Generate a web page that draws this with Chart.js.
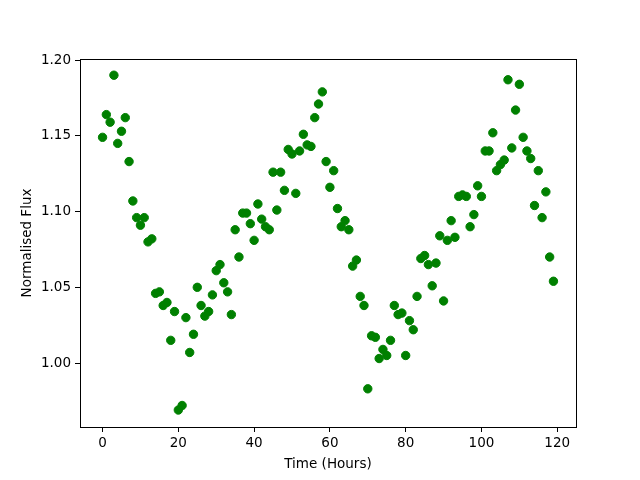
<!DOCTYPE html>
<html>
<head>
<meta charset="utf-8">
<script src="https://cdn.jsdelivr.net/npm/chart.js@4/dist/chart.umd.min.js"></script>
<style>
  html, body { margin: 0; padding: 0; background: #ffffff; }
  #wrap { width: 640px; height: 480px; }
</style>
</head>
<body>
<div id="wrap"><canvas id="fluxChart" width="640" height="480"></canvas></div>
<script>
// hourly samples, 0..119
const hours = [
    0, 1, 2, 3, 4, 5, 6, 7, 8, 9, 10, 11, 12, 13, 14, 15, 16, 17, 18, 19,
    20, 21, 22, 23, 24, 25, 26, 27, 28, 29, 30, 31, 32, 33, 34, 35, 36, 37, 38, 39,
    40, 41, 42, 43, 44, 45, 46, 47, 48, 49, 50, 51, 52, 53, 54, 55, 56, 57, 58, 59,
    60, 61, 62, 63, 64, 65, 66, 67, 68, 69, 70, 71, 72, 73, 74, 75, 76, 77, 78, 79,
    80, 81, 82, 83, 84, 85, 86, 87, 88, 89, 90, 91, 92, 93, 94, 95, 96, 97, 98, 99,
    100, 101, 102, 103, 104, 105, 106, 107, 108, 109, 110, 111, 112, 113, 114, 115, 116, 117, 118, 119
];
const flux = [
    1.149, 1.164, 1.159, 1.190, 1.145, 1.153, 1.162, 1.133, 1.107, 1.096,
    1.091, 1.096, 1.080, 1.082, 1.046, 1.047, 1.038, 1.040, 1.015, 1.034,
    0.969, 0.972, 1.030, 1.007, 1.019, 1.050, 1.038, 1.031, 1.034, 1.045,
    1.061, 1.065, 1.053, 1.047, 1.032, 1.088, 1.070, 1.099, 1.099, 1.092,
    1.081, 1.105, 1.095, 1.090, 1.088, 1.126, 1.101, 1.126, 1.114, 1.141,
    1.138, 1.112, 1.140, 1.151, 1.144, 1.143, 1.162, 1.171, 1.179, 1.133,
    1.116, 1.127, 1.102, 1.090, 1.094, 1.088, 1.064, 1.068, 1.044, 1.038,
    0.983, 1.018, 1.017, 1.003, 1.009, 1.005, 1.015, 1.038, 1.032, 1.033,
    1.005, 1.028, 1.022, 1.044, 1.069, 1.071, 1.065, 1.051, 1.066, 1.084,
    1.041, 1.081, 1.094, 1.083, 1.110, 1.111, 1.110, 1.090, 1.098, 1.117,
    1.110, 1.140, 1.140, 1.152, 1.127, 1.131, 1.134, 1.187, 1.142, 1.167,
    1.184, 1.149, 1.140, 1.135, 1.104, 1.127, 1.096, 1.113, 1.070, 1.054
];
const xTicks = [0, 20, 40, 60, 80, 100, 120];
const yTicks = [1.00, 1.05, 1.10, 1.15, 1.20];

Chart.defaults.font.family = "'DejaVu Sans', sans-serif";
Chart.defaults.font.size = 13.5;
Chart.defaults.color = '#000000';

// matplotlib-style frame round the plot area
const framePlugin = {
    id: 'frame',
    afterDraw(chart) {
        const a = chart.chartArea;
        const ctx = chart.ctx;
        ctx.save();
        ctx.strokeStyle = '#000000';
        ctx.lineWidth = 1;
        ctx.strokeRect(Math.round(a.left) + 0.5, Math.round(a.top) + 0.5,
            Math.round(a.right - a.left), Math.round(a.bottom - a.top));
        ctx.restore();
    }
};

const points = hours.map((h, i) => ({ x: h, y: flux[i] }));

new Chart(document.getElementById('fluxChart').getContext('2d'), {
    type: 'scatter',
    data: {
        datasets: [{
            data: points,
            backgroundColor: '#008000',
            borderColor: '#008000',
            borderWidth: 1,
            pointRadius: 4.2,
            pointHoverRadius: 4.2
        }]
    },
    options: {
        responsive: false,
        animation: false,
        layout: { padding: { top: 59, right: 64, left: 0, bottom: 0 } },
        plugins: { legend: { display: false }, tooltip: { enabled: false } },
        scales: {
            x: {
                type: 'linear',
                min: -5.95,
                max: 124.95,
                afterBuildTicks: s => { s.ticks = xTicks.map(v => ({ value: v })); },
                afterFit: s => { s.height = 53; },
                grid: { drawOnChartArea: false, tickLength: 5, color: '#000000' },
                border: { display: false },
                ticks: { autoSkip: false, maxRotation: 0, padding: 3 },
                title: { display: true, text: 'Time (Hours)', padding: { top: 0, bottom: 7 } }
            },
            y: {
                type: 'linear',
                min: 0.9578,
                max: 1.2007,
                afterBuildTicks: s => { s.ticks = yTicks.map(v => ({ value: v })); },
                afterFit: s => { s.width = 80; },
                grid: { drawOnChartArea: false, tickLength: 5, color: '#000000' },
                border: { display: false },
                ticks: { autoSkip: false, padding: 4, callback: v => v.toFixed(2) },
                title: { display: true, text: 'Normalised Flux', padding: { top: 19, bottom: 0 } }
            }
        }
    },
    plugins: [framePlugin]
});
</script>
</body>
</html>
